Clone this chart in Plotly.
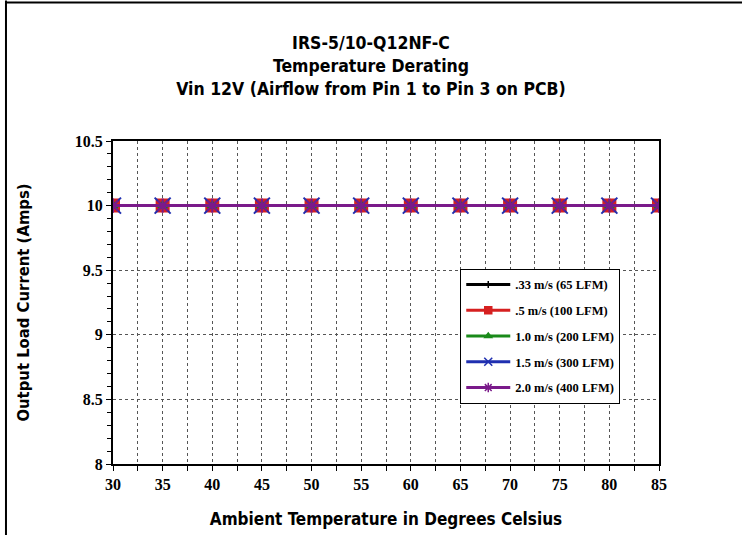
import plotly.graph_objects as go

temps = [30, 35, 40, 45, 50, 55, 60, 65, 70, 75, 80, 85]
s033 = [10, 10, 10, 10, 10, 10, 10, 10, 10, 10, 10, 10]
s05 = [10, 10, 10, 10, 10, 10, 10, 10, 10, 10, 10, 10]
s10 = [10, 10, 10, 10, 10, 10, 10, 10, 10, 10, 10, 10]
s15 = [10, 10, 10, 10, 10, 10, 10, 10, 10, 10, 10, 10]
s20 = [10, 10, 10, 10, 10, 10, 10, 10, 10, 10, 10, 10]
names = [".33 m/s (65 LFM)", ".5 m/s (100 LFM)", "1.0 m/s (200 LFM)",
         "1.5 m/s (300 LFM)", "2.0 m/s (400 LFM)"]
values = [s033, s05, s10, s15, s20]
colors = ["#000000", "#d62020", "#1a8a1a", "#1f2fb0", "#7a1a8a"]
symbols = ["line-ns-open", "square", "triangle-up", "x-thin-open", "asterisk-open"]
sizes = [6, 12, 8, 16, 12]
leg_sizes = [5, 7, 6, 8, 8]

COND = "DejaVu Sans Condensed, Arial Narrow, sans-serif"
SERIF = "Liberation Serif, Times New Roman, serif"

fig = go.Figure()
for i, (n, v, c, s, sz) in enumerate(zip(names, values, colors, symbols, sizes)):
    fig.add_trace(go.Scatter(
        x=temps, y=v, name=n, mode="lines+markers", showlegend=False,
        line=dict(color=c, width=3),
        marker=dict(symbol=s, size=sz, color=c, line=dict(color=c, width=2)),
    ))
for i, (n, c, s, sz) in enumerate(zip(names, colors, symbols, leg_sizes)):
    fig.add_trace(go.Scatter(
        x=[None], y=[None], name=n, mode="lines+markers", legendgroup=f"g{i}",
        line=dict(color=c, width=3),
        marker=dict(symbol=s, size=sz, color=c, line=dict(color=c, width=1.5)),
    ))

fig.update_layout(
    width=742, height=538,
    margin=dict(l=113, r=83, t=141, b=71),
    paper_bgcolor="white", plot_bgcolor="white",
    title=dict(
        text="IRS-5/10-Q12NF-C<br>Temperature Derating<br>Vin 12V (Airflow from Pin 1 to Pin 3 on PCB)",
        x=0.5, xanchor="center", y=0.908, yanchor="top", yref="container",
        font=dict(family=COND, size=17.5, color="black", weight="bold"),
    ),
    legend=dict(
        x=0.636, y=0.604, xanchor="left", yanchor="top",
        bgcolor="white", bordercolor="black", borderwidth=1,
        font=dict(family=SERIF, size=12.5, color="black", weight="bold"),
        tracegroupgap=6.5, itemwidth=44,
    ),
    showlegend=True,
)

fig.update_xaxes(
    range=[30, 85], tickvals=temps, ticks="outside", ticklen=5, tickcolor="black",
    showline=True, linecolor="black", linewidth=2, mirror=True,
    showgrid=True, gridcolor="#555555", griddash="dot", gridwidth=1,
    minor=dict(dtick=2.5, tick0=30, ticks="outside", ticklen=5, tickcolor="black",
               showgrid=True, gridcolor="#555555", griddash="dot", gridwidth=1),
    tickfont=dict(family=SERIF, size=16, color="black", weight="bold"),
    zeroline=False,
    title=dict(text="Ambient Temperature in Degrees Celsius",
               font=dict(family=COND, size=17, color="black", weight="bold"),
               standoff=21),
)
fig.update_yaxes(
    range=[8, 10.5], dtick=0.5, tick0=8, ticks="outside", ticklen=5, tickcolor="black",
    showline=True, linecolor="black", linewidth=2, mirror=True,
    showgrid=True, gridcolor="#555555", griddash="dot", gridwidth=1,
    minor=dict(dtick=0.1, ticks="outside", ticklen=4, tickcolor="black", showgrid=False),
    tickfont=dict(family=SERIF, size=16, color="black", weight="bold"),
    tickformat="~g", zeroline=False,
    title=dict(text="Output Load Current (Amps)",
               font=dict(family=COND, size=16.5, color="black", weight="bold"),
               standoff=41),
)

fig.add_shape(type="line", xref="paper", yref="paper",
              x0=-0.196, x1=-0.196, y0=1.435, y1=-0.22,
              line=dict(color="black", width=2))
fig.add_shape(type="line", xref="paper", yref="paper",
              x0=-0.196, x1=1.155, y0=1.429, y1=1.429,
              line=dict(color="black", width=2))

fig.write_html("out.html", config={"displayModeBar": False},
               post_script="document.body.style.margin='0';")
